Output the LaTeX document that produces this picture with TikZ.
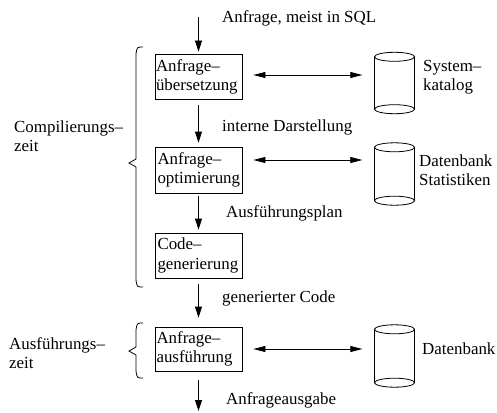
\documentclass[tikz,border=0pt]{standalone}
\usepackage{fontspec}
\setmainfont{Liberation Serif}
\usetikzlibrary{arrows.meta,positioning,calc}
\definecolor{ink}{HTML}{000000}
\tikzset{
  phase/.style  ={draw=ink,line width=0.8pt,align=left,inner sep=0pt,
                  minimum width=87pt,minimum height=45pt,text width=#1},
  phase/.default=82pt,
  dbcyl/.style  ={inner sep=0pt,minimum width=40pt},
  note/.style   ={inner sep=0pt,align=left,anchor=west},
  flow/.style   ={-{Triangle[length=11pt,width=7pt]},line width=0.8pt,draw=ink},
  lookup/.style ={{Triangle[length=12pt,width=6pt]}-{Triangle[length=12pt,width=6pt]},
                  line width=0.8pt,draw=ink},
  klammer/.style={line width=0.8pt,draw=ink}
}
\begin{document}
\begin{tikzpicture}[x=1pt,y=-1pt,font=\fontsize{16.9}{19.5}\selectfont]
  \useasboundingbox (0,0) rectangle (497,412);
  % Phasen
  \node[phase=85pt] (uebers) at (198.5,77) {Anfrage--\\übersetzung};
  \node[phase,minimum height=46pt] (optim) at (198.5,170) {Anfrage--\\optimierung};
  \node[phase] (codegen) at (198.5,255.5) {Code--\\generierung};
  \node[phase=84pt,minimum height=44pt] (ausf) at (198.5,349) {Anfrage--\\ausführung};

  % Datenfluss
  \coordinate (anfrage) at (198.5,17);
  \coordinate (ausgabe) at (198.5,411);
  \draw[flow,shorten >=2.5pt] (anfrage) -- (uebers);
  \draw[flow,shorten <=5.5pt,shorten >=4pt] (uebers) -- (optim);
  \draw[flow,shorten <=3pt,shorten >=3pt] (optim) -- (codegen);
  \draw[flow,shorten <=6pt,shorten >=9pt] (codegen) -- (ausf);
  \draw[flow,shorten <=9pt] (ausf) -- (ausgabe);

  \node[note] (sql) at (222,18) {Anfrage, meist in SQL};
  \node[note] (intern) at (222,127) {interne Darstellung};
  \node[note] (plan) at (226,213.5) {Ausführungsplan};
  \node[note] (gencode) at (222,298) {generierter Code};
  \node[note] (ausg) at (226,400) {Anfrageausgabe};

  % Datenbanken
  \node[dbcyl,minimum height=52pt] (katalog) at (394.5,83) {};
  \node[dbcyl,minimum height=53pt] (stat) at (394.5,174) {};
  \node[dbcyl,minimum height=53pt] (dbank) at (394.5,356) {};
  \foreach \db in {katalog,stat,dbank}{
    \draw[klammer] (\db.north west) -- (\db.south west)
                   (\db.north east) -- (\db.south east);
    \draw[klammer] (\db.north) ellipse (20pt and 4.5pt)
                   (\db.south) ellipse (20pt and 4.5pt);
  }
  \node[note] (katlbl) at (423,77) {System--\\katalog};
  \node[note] (statlbl) at (419,170) {Datenbank\\Statistiken};
  \node[note] (dblbl) at (422,349) {Datenbank};

  \coordinate (k1) at ([yshift=2pt]uebers.east);
  \coordinate (k2) at ([yshift=10pt]optim.east);
  \coordinate (k3) at (ausf.east);
  \draw[lookup,shorten <=11pt,shorten >=12pt] (k1) -- (k1 -| katalog.west);
  \draw[lookup,shorten <=11pt,shorten >=12pt] (k2) -- (k2 -| stat.west);
  \draw[lookup,shorten <=11pt,shorten >=12pt] (k3) -- (k3 -| dbank.west);

  % Zeitpunkte
  \draw[klammer] (143,47) .. controls (137,47) .. (136,54) -- (136,159)
    -- (129,163) -- (136,167) -- (136,280) .. controls (137,287) .. (143,287);
  \draw[klammer] (143,323) .. controls (137,323) .. (136,330) -- (136,347)
    -- (129,351) -- (136,355) -- (136,371) .. controls (137,378) .. (143,378);
  \node[note] (comp) at (14,136) {Compilierungs--\\zeit};
  \node[note] (ausfz) at (9,353) {Ausführungs--\\zeit};
\end{tikzpicture}
\end{document}
